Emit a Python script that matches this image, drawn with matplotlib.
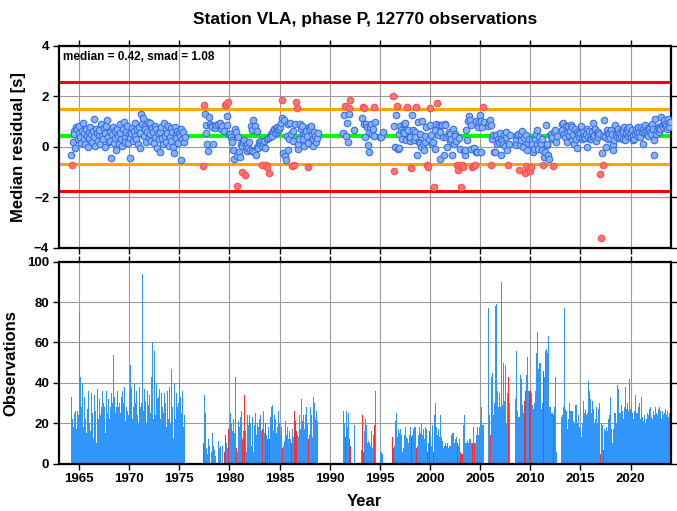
import numpy as np
import matplotlib
matplotlib.use("Agg")
import matplotlib.pyplot as plt

nan = np.nan

title = "Station VLA, phase P, 12770 observations"
median = 0.42
smad = 1.08
xticks = [1965, 1970, 1975, 1980, 1985, 1990, 1995, 2000, 2005, 2010, 2015, 2020]

# Segment A: monthly values starting 1964-03
resA_start = (1964, 3)
resA = [
    -0.30, -0.70, 0.20, 0.62, 0.50, -0.05, 0.78, 0.70, 0.30, 0.55,
    0.85, 0.40, 0.15, 0.65, 0.95, 0.30, 0.55, 0.10, 0.70, 0.45, 0.00, 0.60,
    0.35, 0.80, 0.50, 0.20, 0.62, 1.12, 0.40, 0.05, 0.70, 0.55, 0.25, 0.48,
    0.68, 0.10, 0.90, 0.45, 0.30, 0.75, 0.00, 0.55, 0.85, 1.08, 0.40, 0.20,
    0.60, 0.25, -0.42, 0.50, 0.80, 0.15, 0.65, 0.35, -0.10, 0.72, 0.45, 0.10,
    0.55, 0.90, 0.30, 0.05, 0.70, 0.99, 0.40, 0.20, 0.60, 0.85, 0.15, 0.50,
    0.35, -0.42, 0.55, 0.75, 0.25, 0.65, 0.45, 0.95, 0.30, 0.70, 0.10, 0.80,
    0.55, -0.03, 1.32, 0.90, 1.15, 0.45, 0.85, 0.70, 0.20, 0.60, 1.00, 0.35,
    0.95, 0.50, 0.25, 0.75, 0.60, 0.15, 0.85, 0.40, 0.70, -0.05, 0.55, 0.30,
    -0.20, 0.60, 0.80, 0.35, 0.10, 0.95, 0.45, 0.70, 0.20, 0.55, 0.85, 0.05,
    0.40, 0.75, 0.25, 0.60, 0.00, -0.25, 0.80, 0.50, 0.35, 0.65, 0.15, 0.55,
    0.45, 0.70, -0.50, 0.30, 0.60, 0.20, 0.40]
cntA = [
    33, 10, 22, 18, 25, 26, 17, 25, 26, 24,
    75, 43, 28, 20, 40, 18, 33, 22, 15, 24, 27, 36,
    20, 16, 35, 24, 25, 12, 34, 26, 10, 18, 37, 22,
    32, 24, 28, 38, 36, 30, 28, 15, 36, 28, 25, 32,
    22, 28, 35, 24, 30, 54, 33, 25, 28, 20, 36, 28,
    30, 25, 33, 22, 36, 30, 38, 21, 28, 19, 26, 24,
    36, 49, 38, 22, 30, 28, 40, 30, 36, 24, 34, 20,
    38, 28, 30, 94, 33, 26, 37, 31, 20, 36, 28, 29,
    34, 25, 43, 60, 30, 22, 56, 24, 40, 32, 27, 33,
    37, 22, 35, 28, 40, 25, 35, 30, 18, 36, 34, 22,
    38, 20, 47, 28, 34, 12, 40, 22, 35, 28, 42, 30,
    40, 33, 25, 36, 24, 18, 24]

# Segment C: monthly values starting 1977-05
resC_start = (1977, 5)
resC = [
    -0.75, 1.65, 1.29, 0.88, 0.56, 0.13, -0.17, 1.20,
    0.92, nan, 0.85, 0.80, 0.13, nan, 0.75, 0.88, nan, nan, 0.92, nan,
    0.95, 0.72, nan, 0.85, nan, 0.62, 1.65, 1.72, 1.24, 0.88, 1.78, 0.50,
    0.50, 0.40, 0.28, 0.21, -0.10, -0.46, 0.70, 0.60, -1.56, -0.37, 0.40, -0.20,
    -0.40, 0.10, 0.05, -0.99, 0.20, 0.28, -1.10, 0.00, -0.15, 0.12, -0.05, 0.18,
    -0.10, 0.85, 0.66, -0.15, 1.08, -0.20, 0.85, -0.33, 0.63, 0.00, -0.05, 0.20,
    0.10, 0.25, 0.05, -0.70, 0.15, 0.22, -0.05, -0.72, 0.30, -0.80, 0.35, -1.02,
    0.40, 0.50, 0.55, 0.45, 0.65, 0.70, 0.56, 0.75, 0.60, 0.80, 0.66, 0.72,
    0.80, 0.95, 1.15, 1.85, -0.25, 1.08, -0.35, -0.50, 0.45, 0.90, -0.10, 0.30,
    0.95, 0.50, -0.77, 0.63, 0.24, -0.70, 0.90, 1.78, 1.55, -0.07, 0.13, 0.33,
    0.90, 0.70, 0.85, 0.50, 0.31, 0.02, 0.50, 0.65, 0.45, 0.15, -0.80, 0.80,
    0.70, 0.85, 0.50, 0.31, 0.02, 0.60, 0.45, 0.20, 0.35, 0.55]
cntC = [
    10, 15, 34, 25, 8, 5, 12, 6,
    9, nan, 6, 15, 9, nan, 7, 4, nan, nan, 11, nan,
    8, 9, nan, 9, nan, 5, 6, 14, 10, 8, 17, 12,
    19, 25, 20, 16, 22, 10, 15, 43, 8, 6, 21, 16,
    18, 23, 26, 12, 16, 18, 34, 16, 6, 24, 19, 11,
    24, 20, 9, 23, 6, 19, 17, 25, 14, 20, 18, 22,
    19, 24, 16, 17, 26, 15, 22, 20, 14, 12, 18, 12,
    24, 23, 28, 29, 16, 24, 19, 22, 15, 18, 26, 20,
    24, 14, 18, 8, 9, 11, 24, 21, 14, 18, 12, 16,
    15, 12, 10, 17, 13, 26, 20, 21, 16, 14, 13, 24,
    26, 17, 32, 21, 24, 17, 10, 24, 28, 20, 12, 14,
    24, 28, 24, 13, 33, 30, 22, 18, 26, 21]

# Segment D: monthly values starting 1991-05
resD_start = (1991, 5)
resD = [
    0.57, 1.25, 1.64, 0.42, 0.96, 0.20, 1.31, 1.56,
    1.86, nan, nan, nan, nan, 0.68, nan, nan, nan, nan, nan, nan,
    nan, nan, 1.13, 1.60, 1.55, 0.93, 0.39, 0.90, 0.80, 0.09, -0.19, 0.60,
    0.80, 0.92, 0.50, 0.70, 0.45, 1.60, 1.00, nan, nan, nan, nan, nan,
    0.39, 0.41, nan, 0.60]
cntD = [
    26, 20, 13, 25, 26, 18, 25, 12,
    9, nan, nan, nan, nan, 19, nan, nan, nan, nan, nan, nan,
    nan, nan, 7, 24, 6, 16, 22, 21, 19, 10, 11, 10,
    9, 12, 16, 8, 14, 19, 36, nan, nan, nan, nan, nan,
    6, 6, nan, 5]

# Segment E: monthly values starting 1996-04
resE_start = (1996, 4)
resE = [
    2.00, -0.95, 0.83, 0.00, 1.25, 1.61, -0.07, -0.03, 0.50,
    0.85, 0.66, 0.30, 0.59, 0.92, 0.55, 0.95, 0.26, 1.58, 0.66, 0.40, 0.22,
    0.40, -0.83, 1.25, 0.66, 0.27, 0.60, 0.39, 1.58, -0.33, 0.99, 0.20, 0.52,
    0.16, 0.00, 1.04, 0.13, -0.13, 0.19, 0.45, 0.80, -0.72, -0.78, 0.30, 1.56,
    0.86, 0.46, 0.13, 0.20, -1.59, -0.07, 0.69, 0.90, 1.75, 0.46, 0.89, 0.60,
    -0.49, 0.86, 0.89, 0.39, -0.31, 0.92, 0.86, 0.39, 0.00, 0.46, 0.60, 0.25,
    0.52, 0.30, -0.33, 0.72, 0.13, 0.52, 0.45, 0.25, -0.72, -0.90, 0.35, -0.07,
    -0.75, -1.59, -0.70, -0.80, -0.17, -0.30, -0.10, 0.66, 0.27, 1.03, 1.22, 1.07,
    0.89, -0.07, -0.80, -0.75, -0.04, -0.70, -0.20, 1.01, -0.20, 0.79, 0.99, 1.28,
    1.01, -0.20, 0.79, 1.58, 0.99, nan, nan, nan, nan, 0.82, 0.95, 1.07,
    -0.70, 0.87, 0.30, 0.46, -0.20, -0.20, 0.46, 0.46, 0.13, 0.33, 0.20, 0.55,
    0.33, -0.33, 0.25, 0.13, 0.46, 0.05, 0.38, 0.60, -0.10, -0.70, 0.13, 0.46,
    nan, nan, nan, nan, nan, nan, 0.26, 0.07, 0.46, 0.52, -0.93, 0.07,
    0.52, 0.26, 0.62, 0.00, 0.35, -1.03, -0.75, 0.46, -0.10, 0.16, 0.30, -0.97,
    -0.80, 0.26, 0.13, -0.20, -0.07, 0.33, 0.52, 0.66, 0.13, -0.07, 0.40, 0.20,
    0.10, -0.10, 0.30, -0.70, -0.40, -0.20, 0.89, 0.06, 0.13, -0.33, -0.46, 0.46,
    0.52, 0.30, 0.40, -0.77, 0.59, 0.69, 0.20, 0.45]
cntE = [
    13, 8, 9, 21, 25, 13, 13, 17, 15,
    17, 14, 12, 6, 8, 14, 18, 13, 8, 12, 10, 14,
    18, 13, 10, 14, 17, 18, 18, 8, 10, 9, 14, 18,
    15, 20, 9, 14, 17, 12, 18, 17, 17, 6, 10, 16,
    14, 9, 14, 19, 6, 24, 30, 18, 10, 14, 17, 13,
    24, 13, 11, 9, 8, 9, 10, 9, 10, 9, 8, 9,
    9, 14, 15, 14, 15, 10, 12, 13, 10, 18, 9, 12,
    6, 5, 5, 5, 19, 24, 10, 10, 11, 10, 10, 12,
    12, 10, 10, 10, 18, 10, 10, 14, 18, 21, 14, 18,
    21, 28, 19, 19, 19, nan, nan, nan, nan, 19, 77, 24,
    14, 43, 45, 45, 24, 30, 78, 79, 36, 33, 28, 35,
    28, 90, 29, 50, 66, 31, 49, 20, 35, 43, 85, 30,
    nan, nan, nan, nan, nan, nan, 32, 56, 26, 23, 32, 23,
    44, 42, 29, 25, 28, 31, 36, 44, 53, 36, 30, 36,
    36, 35, 29, 27, 27, 30, 36, 55, 65, 47, 55, 50,
    50, 27, 30, 46, 27, 43, 56, 57, 55, 63, 32, 28,
    28, 25, 25, 24, 23, 28, 43, 6]

# Segment F: monthly values starting 2013-02
resF_start = (2013, 2)
resF = [
    0.92, 0.66, 0.95, 0.53, 0.39, 0.85, 0.56, 0.20, 0.85, 0.46, 0.62,
    0.86, 0.26, 0.80, 0.46, 0.13, 0.72, 0.33, 0.60, -0.05, 0.50, 0.40, 0.55,
    0.82, 0.30, 0.40, 0.60, 0.45, 0.35, 0.52, 0.70, 0.00, 0.40, 0.65, 0.30,
    0.33, 0.59, 0.40, 0.95, 0.46, 0.70, 0.25, 0.55, 0.60, 0.38, 0.50, -1.08,
    -3.61, -0.24, 0.45, -0.72, 1.08, 0.40, 0.00, 0.66, 0.30, 0.55, 0.50, 0.35,
    0.66, 0.52, 0.06, -0.13, 0.26, 0.86, 0.52, 0.40, 0.60, 0.70, 0.35, 0.55,
    0.39, 0.66, 0.33, 0.59, 0.79, 0.26, 0.55, 0.70, 0.45, 0.62, 0.80, 0.50,
    0.39, 0.66, 0.46, 0.26, 0.33, 0.52, 0.70, 0.60, 0.45, 0.80, 0.55, 0.40,
    0.79, 0.59, 0.13, 0.72, 0.59, 0.86, 0.65, 0.50, 0.75, 0.45, 0.70, 0.60,
    0.52, 0.92, 0.70, -0.31, 0.26, 1.12, 0.52, 0.66, 0.80, 0.60, 0.75, 0.70,
    1.19, 0.86, 0.79, 0.92, 1.05, 0.92, 0.85, 0.70, 1.10, 0.95, 0.80, 1.00]
cntF = [
    23, 24, 28, 77, 33, 27, 26, 17, 22, 30, 46,
    26, 26, 26, 21, 20, 27, 29, 29, 20, 24, 18, 17,
    17, 13, 20, 31, 25, 22, 27, 24, 25, 41, 36, 34,
    32, 25, 31, 27, 20, 30, 22, 28, 20, 27, 30, 20,
    5, 20, 19, 7, 17, 30, 16, 18, 16, 22, 24, 18,
    33, 17, 10, 17, 25, 36, 25, 20, 39, 37, 25, 29,
    25, 29, 26, 22, 28, 38, 24, 27, 30, 26, 42, 27,
    27, 29, 25, 22, 26, 34, 27, 25, 25, 28, 30, 22,
    27, 33, 23, 21, 24, 20, 24, 22, 25, 24, 27, 28,
    26, 23, 22, 26, 24, 28, 22, 25, 24, 27, 28, 26,
    23, 22, 26, 24, 25, 27, 22, 24, 26, 23, 25, 24]

segments = [
    (resA_start, resA, cntA),
    (resC_start, resC, cntC),
    (resD_start, resD, cntD),
    (resE_start, resE, cntE),
    (resF_start, resF, cntF),
]

t, r, c = [], [], []
for (y0, m0), rr, cc in segments:
    assert len(rr) == len(cc), (y0, len(rr), len(cc))
    for i, (rv, cv) in enumerate(zip(rr, cc)):
        t.append(y0 + (m0 - 1 + i + 0.5) / 12.0)
        r.append(rv)
        c.append(cv)
t = np.array(t)
r = np.array(r, dtype=float)
c = np.array(c, dtype=float)
ok = ~np.isnan(r)
t, r, c = t[ok], r[ok], c[ok]
lo, hi = median - smad, median + smad
out = (r < lo) | (r > hi)

FONT = ["Liberation Sans Narrow", "Liberation Sans", "DejaVu Sans"]
plt.rcParams["font.family"] = FONT
plt.rcParams["font.weight"] = "bold"

fig = plt.figure(figsize=(6.77, 5.11), dpi=100)
ax1 = fig.add_axes([0.0871, 0.5147, 0.9035, 0.3953])
ax2 = fig.add_axes([0.0871, 0.0926, 0.9035, 0.3953])

grid_kw = dict(color="#9a9a9a", linewidth=0.8)
for ax in (ax1, ax2):
    ax.set_xlim(1963.0, 2024.0)
    ax.set_xticks(xticks)
    ax.grid(True, **grid_kw)
    ax.set_axisbelow(True)
    ax.tick_params(direction="out", top=True, right=True, length=4, width=1,
                   labelsize=9.5, pad=3)
    for s in ax.spines.values():
        s.set_linewidth(1.6)

# top panel
ax1.set_ylim(-4, 4)
ax1.set_yticks([-4, -2, 0, 2, 4])
ax1.tick_params(labelbottom=False)
ax1.axhline(median + 2 * smad, color="#ff0000", lw=2.2, zorder=2)
ax1.axhline(median - 2 * smad, color="#ff0000", lw=2.2, zorder=2)
ax1.axhline(hi, color="#ffa500", lw=2.2, zorder=2)
ax1.axhline(lo, color="#ffa500", lw=2.2, zorder=2)
ax1.axhline(median, color="#00ff00", lw=3.0, zorder=2)
ax1.scatter(t[~out], r[~out], s=22, facecolor="#86b3f2", edgecolor="#3b6fe6",
            linewidth=0.8, zorder=3)
ax1.scatter(t[out], r[out], s=22, facecolor="#ff7272", edgecolor="#ff5050",
            linewidth=0.8, zorder=3)
ax1.set_ylabel("Median residual [s]", fontsize=12, fontweight="bold", labelpad=6)
ax1.text(0.007, 0.975, "median = %.2f, smad = %.2f" % (median, smad),
         transform=ax1.transAxes, ha="left", va="top", fontsize=8.5,
         fontweight="bold")
ax1.set_title(title, fontsize=12.5, fontweight="bold", pad=16)

# bottom panel
ax2.set_ylim(0, 100)
ax2.set_yticks([0, 20, 40, 60, 80, 100])
ax2.bar(t[~out], c[~out], width=1 / 12.0, color="#3196fa", linewidth=0,
        zorder=2)
ax2.bar(t[out], c[out], width=1 / 12.0, color="#ff2b2b", linewidth=0,
        zorder=2)
ax2.set_ylabel("Observations", fontsize=12, fontweight="bold", labelpad=6)
ax2.set_xlabel("Year", fontsize=12, fontweight="bold", labelpad=6)

fig.savefig("out.png", dpi=100)
